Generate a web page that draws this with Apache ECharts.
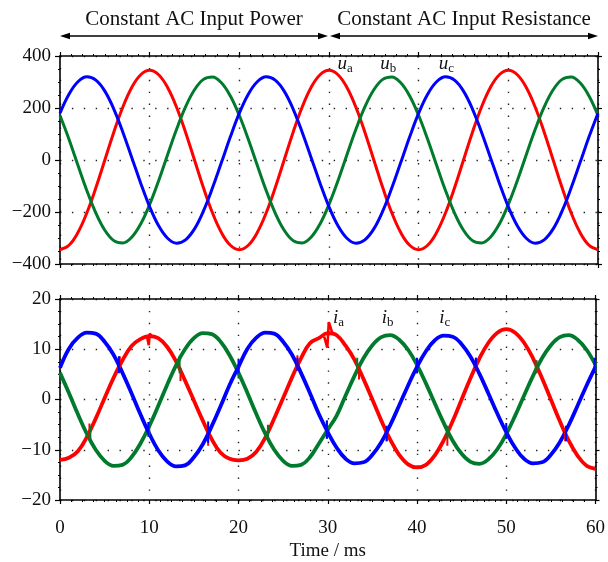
<!DOCTYPE html>
<html>
<head>
<meta charset="utf-8">
<script src="https://cdn.jsdelivr.net/npm/echarts@6/dist/echarts.min.js"></script>
<style>
html,body{margin:0;padding:0;background:#fff;}
#chart{width:608px;height:562px;}
</style>
</head>
<body>
<div id="chart"></div>
<script>
// ---- data ----
const timeMs = [0,1,2,3,4,5,6,7,8,9,10,11,12,13,14,15,16,17,18,19,20,21,22,23,24,25,26,27,28,29,30,31,32,33,34,35,36,37,38,39,40,41,42,43,44,45,46,47,48,49,50,51,52,53,54,55,56,57,58,59,60];

// phase voltages (V)
const uA = [-345,-328,-279,-203,-107,0,107,203,279,328,345,328,279,203,107,0,-107,-203,-279,-328,
            -345,-328,-279,-203,-107,0,107,203,279,328,345,328,279,203,107,0,-107,-203,-279,-328,
            -345,-328,-279,-203,-107,0,107,203,279,328,345,328,279,203,107,0,-107,-203,-279,-328,-345];
const uB = [171,80,-20,-118,-204,-270,-310,-319,-297,-246,-171,-80,20,118,204,270,310,319,297,246,
            171,80,-20,-118,-204,-270,-310,-319,-297,-246,-171,-80,20,118,204,270,310,319,297,246,
            171,80,-20,-118,-204,-270,-310,-319,-297,-246,-171,-80,20,118,204,270,310,319,297,246,171];
const uC = [180,253,301,320,307,265,196,108,10,-89,-180,-253,-301,-320,-307,-265,-196,-108,-10,89,
            180,253,301,320,307,265,196,108,10,-89,-180,-253,-301,-320,-307,-265,-196,-108,-10,89,
            180,253,301,320,307,265,196,108,10,-89,-180,-253,-301,-320,-307,-265,-196,-108,-10,89,180];

// phase currents (A)
const iA = [-12.0,-11.6,-10.3,-7.5,-3.8,0.3,4.3,7.8,10.6,12.0,12.6,12.2,10.5,7.6,3.8,-0.2,-4.2,-7.9,-10.6,-11.8,
            -12.1,-11.8,-10.4,-7.6,-3.8,0.3,4.4,8.2,11.2,12.2,13.2,12.8,10.7,7.9,4.1,0.0,-4.2,-8.0,-11.0,-12.9,
            -13.5,-13.0,-11.1,-8.1,-4.3,0.0,4.3,8.2,11.3,13.3,14.0,13.3,11.3,8.2,4.3,0.0,-4.3,-8.2,-11.2,-13.2,-13.8];
const iB = [5.3,1.3,-2.9,-6.8,-10.0,-12.2,-13.2,-13.0,-11.5,-8.8,-5.3,-1.3,2.9,6.8,10.0,12.2,13.2,13.0,11.5,8.8,
            5.3,1.3,-2.9,-6.8,-10.0,-12.2,-13.2,-13.0,-11.5,-8.8,-6.0,-3.2,0.8,4.7,8.2,10.8,12.4,12.8,11.9,9.9,
            6.9,3.2,-0.8,-4.7,-8.2,-10.8,-12.4,-12.8,-11.9,-9.9,-6.9,-3.2,0.8,4.7,8.2,10.8,12.4,12.8,11.9,9.9,6.9];
const iC = [6.3,10.1,12.3,13.3,13.1,11.5,8.9,5.3,1.3,-2.9,-6.8,-10.1,-12.3,-13.3,-13.1,-11.5,-8.9,-5.3,-1.3,2.9,
            6.5,10.1,12.3,13.3,13.1,11.5,8.9,5.3,1.3,-2.9,-6.5,-9.6,-11.8,-12.7,-12.5,-11.0,-8.5,-5.1,-1.2,2.8,
            6.5,9.6,11.8,12.7,12.5,11.0,8.5,5.1,1.2,-2.8,-6.5,-9.6,-11.8,-12.7,-12.5,-11.0,-8.5,-5.1,-1.2,2.8,6.5];

// spikes on ia near 10 ms and at the 30 ms mode change
const iaSpikeT = [9.75, 9.95, 10.05, 10.3, null, 29.6, 29.95, 30.12, 30.5];
const iaSpikeV = [12.5, 10.8, 13.1, 12.6, null, 12.5, 10.3, 15.4, 13.3];

// short switching glitches: time, low, high
const glitchA_T  = [3.3, 6.7, 13.5, 16.6, 23.3, 26.6, 33.5, 36.6, 43.4, 46.6, 53.4, 56.6];
const glitchA_lo = [-7.8, 6.2, 3.7, -9.2, -7.8, 6.2, 4.0, -8.3, -9.2, 5.7, 5.2, -8.3];
const glitchA_hi = [-4.8, 8.6, 6.3, -6.2, -5.0, 8.8, 6.8, -5.7, -6.7, 8.3, 7.8, -5.7];
const glitchB_T  = [3.4, 10.0, 13.4, 20.0, 23.3, 29.9, 33.3, 40.0, 43.4, 50.0, 53.3, 60.0];
const glitchB_lo = [-7.8, -7.3, 5.2, 4.2, -7.8, -7.8, 5.2, 5.2, -7.8, -7.8, 5.2, 5.2];
const glitchB_hi = [-5.2, -4.7, 8.7, 6.8, -5.2, -4.2, 8.3, 7.8, -5.2, -5.2, 7.8, 7.8];
const glitchC_T  = [6.6, 9.9, 16.6, 20.0, 26.6, 29.9, 36.6, 40.0, 46.6, 50.0, 56.7, 59.9];
const glitchC_lo = [5.2, -7.4, -8.6, 5.2, 5.7, -7.8, -8.3, 5.2, 5.7, -7.8, -8.3, 5.2];
const glitchC_hi = [8.6, -4.5, -4.4, 8.0, 8.3, -4.2, -5.2, 8.3, 8.3, -4.7, -5.2, 8.3];

const xTicks = [0, 60, 10];        // min, max, interval
const uTicks = [-400, 400, 200];
const iTicks = [-20, 20, 10];

const modeLabels = ['Constant AC Input Power', 'Constant AC Input Resistance'];
const modeSpans = [[0, 30], [30, 60]];
const uNames = [['u','a',31.8,368], ['u','b',36.6,368], ['u','c',43.1,368]];
const iNames = [['i','a',31.2,16.2], ['i','b',36.7,16.2], ['i','c',43.1,16.2]];

// ---- styles ----
const RED = '#ff0000', GREEN = '#007a2c', BLUE = '#0000ff';
const FONT = '"Liberation Serif", "Times New Roman", serif';

const pairs = (xs, ys) => xs.map((x, k) => (x === null ? '-' : [x, ys[k]]));
function glitchData(ts, lo, hi) {
  const out = [];
  ts.forEach((t, k) => { out.push([t, lo[k]], [t, hi[k]], '-'); });
  return out;
}
const fmt = v => (v < 0 ? '\u2212' + (-v) : String(v));

function xAxisFor(grid, withLabels) {
  return [{
    type: 'value', gridIndex: grid, position: 'bottom',
    min: xTicks[0], max: xTicks[1], interval: xTicks[2],
    axisLine: { show: true, onZero: false, lineStyle: { color: '#000', width: 1.6 } },
    axisTick: { show: true, inside: false, length: 4, lineStyle: { color: '#000', width: 1.2 } },
    minorTick: { show: true, splitNumber: 8, length: 2, lineStyle: { color: '#000', width: 1 } },
    axisLabel: withLabels ? { show: true, fontFamily: FONT, fontSize: 19, color: '#111', margin: 19 } : { show: false },
    splitLine: { show: true, lineStyle: { color: '#222', width: 1.4, type: [1.4, 10.5] } },
    name: withLabels ? 'Time / ms' : '',
    nameLocation: 'middle', nameGap: 42,
    nameTextStyle: { fontFamily: FONT, fontSize: 19, color: '#111' }
  }, {
    type: 'value', gridIndex: grid, position: 'top',
    min: xTicks[0], max: xTicks[1], interval: xTicks[2],
    axisLine: { show: true, onZero: false, lineStyle: { color: '#000', width: 1.6 } },
    axisTick: { show: true, inside: false, length: 4, lineStyle: { color: '#000', width: 1.2 } },
    minorTick: { show: true, splitNumber: 8, length: 2, lineStyle: { color: '#000', width: 1 } },
    axisLabel: { show: false }, splitLine: { show: false }
  }];
}
function yAxisFor(grid, ticks) {
  return [{
    type: 'value', gridIndex: grid, position: 'left',
    min: ticks[0], max: ticks[1], interval: ticks[2],
    axisLine: { show: true, onZero: false, lineStyle: { color: '#000', width: 1.6 } },
    axisTick: { show: true, inside: false, length: 5, lineStyle: { color: '#000', width: 1.2 } },
    minorTick: { show: true, splitNumber: 4, length: 2, lineStyle: { color: '#000', width: 1 } },
    axisLabel: { show: true, fontFamily: FONT, fontSize: 19, color: '#111', margin: 9, formatter: fmt },
    splitLine: { show: true, lineStyle: { color: '#222', width: 1.4, type: [1.4, 10.5] } }
  }, {
    type: 'value', gridIndex: grid, position: 'right',
    min: ticks[0], max: ticks[1], interval: ticks[2],
    axisLine: { show: true, onZero: false, lineStyle: { color: '#000', width: 1.6 } },
    axisTick: { show: true, inside: false, length: 4, lineStyle: { color: '#000', width: 1.2 } },
    minorTick: { show: true, splitNumber: 4, length: 2, lineStyle: { color: '#000', width: 1 } },
    axisLabel: { show: false }, splitLine: { show: false }
  }];
}
function wave(xi, yi, ys, color, width) {
  return {
    type: 'line', xAxisIndex: xi, yAxisIndex: yi,
    data: timeMs.map((t, k) => [t, ys[k]]),
    showSymbol: false, smooth: 0.4, silent: true,
    lineStyle: { color: color, width: width }, z: 3
  };
}
function glitch(xi, yi, data, color, w) {
  return {
    type: 'line', xAxisIndex: xi, yAxisIndex: yi, data: data,
    showSymbol: false, smooth: false, connectNulls: false, silent: true,
    lineStyle: { color: color, width: w }, z: 4
  };
}

const chart = echarts.init(document.getElementById('chart'), null, { renderer: 'canvas' });
const option = {
  animation: false,
  backgroundColor: '#fff',
  grid: [
    { left: 60, right: 10, top: 56, height: 208 },
    { left: 60, right: 10, top: 299, height: 208 }
  ],
  xAxis: [...xAxisFor(0, false), ...xAxisFor(1, true)],
  yAxis: [...yAxisFor(0, uTicks), ...yAxisFor(1, iTicks)],
  series: [
    wave(0, 0, uA, RED, 3),
    wave(0, 0, uB, GREEN, 3),
    wave(0, 0, uC, BLUE, 3),
    wave(2, 2, iA, RED, 3.8),
    wave(2, 2, iB, GREEN, 3.8),
    wave(2, 2, iC, BLUE, 3.8),
    glitch(2, 2, pairs(iaSpikeT, iaSpikeV), RED, 2.6),
    glitch(2, 2, glitchData(glitchA_T, glitchA_lo, glitchA_hi), RED, 2),
    glitch(2, 2, glitchData(glitchB_T, glitchB_lo, glitchB_hi), GREEN, 2),
    glitch(2, 2, glitchData(glitchC_T, glitchC_lo, glitchC_hi), BLUE, 2)
  ]
};
chart.setOption(option);

// ---- annotations positioned through the axes ----
const P = (grid, x, y) => chart.convertToPixel({ gridIndex: grid }, [x, y]);
const graphics = [];
const topY = P(0, 0, uTicks[1])[1];
const arrowY = topY - 20;
const textY = topY - 37;
modeSpans.forEach((span, k) => {
  const x0 = P(0, span[0], 0)[0] + (k === 1 ? 1 : 0);
  const x1 = P(0, span[1], 0)[0] - (k === 0 ? 1 : 0);
  graphics.push({ type: 'line', shape: { x1: x0 + 4, y1: arrowY, x2: x1 - 4, y2: arrowY }, style: { stroke: '#000', lineWidth: 1.3 } });
  graphics.push({ type: 'polygon', shape: { points: [[x0, arrowY], [x0 + 10, arrowY - 3.2], [x0 + 10, arrowY + 3.2]] }, style: { fill: '#000' } });
  graphics.push({ type: 'polygon', shape: { points: [[x1, arrowY], [x1 - 10, arrowY - 3.2], [x1 - 10, arrowY + 3.2]] }, style: { fill: '#000' } });
  graphics.push({
    type: 'text', x: (x0 + x1) / 2, y: textY,
    style: { text: modeLabels[k], font: '21px ' + FONT, fill: '#111', align: 'center', verticalAlign: 'middle' }
  });
});
function nameLabel(grid, n) {
  const p = P(grid, n[2], n[3]);
  return {
    type: 'text', x: p[0], y: p[1],
    style: {
      text: '{v|' + n[0] + '}{s|' + n[1] + '}', align: 'center', verticalAlign: 'middle',
      rich: {
        v: { fontFamily: FONT, fontStyle: 'italic', fontSize: 19, fill: '#111', lineHeight: 22 },
        s: { fontFamily: FONT, fontSize: 13, fill: '#111', lineHeight: 22, padding: [9, 0, 0, 0] }
      }
    },
    z: 10
  };
}
uNames.forEach(n => graphics.push(nameLabel(0, n)));
iNames.forEach(n => graphics.push(nameLabel(1, n)));
chart.setOption({ graphic: graphics });
</script>
</body>
</html>
